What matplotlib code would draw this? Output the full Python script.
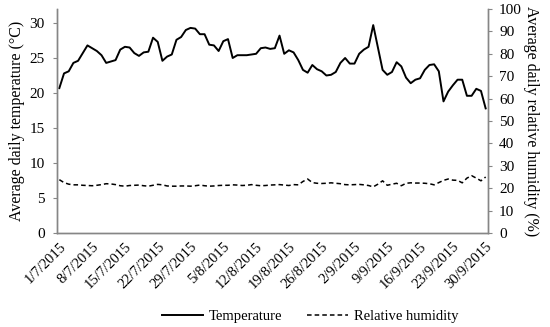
import matplotlib
matplotlib.use("Agg")
import matplotlib.pyplot as plt
import numpy as np
import datetime as dt

plt.rcParams['font.family'] = ['Liberation Serif', 'DejaVu Serif']

temperature = [20.7, 22.8, 23.1, 24.3, 24.6, 25.7, 26.8, 26.4, 26.0, 25.4,
               24.3, 24.5, 24.7, 26.2, 26.6, 26.5, 25.7, 25.3, 25.8, 25.9,
               27.9, 27.3, 24.6, 25.2, 25.5, 27.6, 28.0, 29.0, 29.3, 29.2,
               28.4, 28.4, 26.9, 26.8, 26.0, 27.4, 27.7, 25.0, 25.4, 25.4,
               25.4, 25.5, 25.6, 26.4, 26.5, 26.3, 26.4, 28.2, 25.6, 26.1,
               25.8, 24.7, 23.3, 22.9, 24.0, 23.4, 23.1, 22.5, 22.6, 23.0,
               24.3, 25.0, 24.2, 24.2, 25.6, 26.2, 26.6, 29.7, 26.5, 23.3,
               22.6, 23.0, 24.4, 23.8, 22.2, 21.4, 21.9, 22.1, 23.3, 24.0,
               24.1, 23.1, 18.8, 20.2, 21.1, 21.9, 21.9, 19.6, 19.6, 20.6,
               20.3, 17.8]

humidity = [23.8, 22.5, 21.8, 21.5, 21.5, 21.3, 21.2, 21.1, 21.3, 21.6,
            22.0, 21.9, 21.6, 21.1, 20.9, 21.2, 21.3, 21.4, 21.1, 20.9,
            21.3, 21.7, 21.5, 21.0, 20.9, 20.9, 21.0, 21.0, 20.9, 21.1,
            21.4, 21.1, 20.9, 21.0, 21.2, 21.3, 21.3, 21.5, 21.4, 21.2,
            21.3, 21.6, 21.3, 21.1, 21.2, 21.4, 21.5, 21.6, 21.4, 21.2,
            21.6, 21.5, 23.0, 24.1, 22.5, 22.2, 22.1, 22.2, 22.4, 22.2,
            22.0, 21.6, 21.5, 21.6, 21.7, 21.5, 21.2, 20.6, 21.8, 23.3,
            21.3, 21.8, 22.2, 21.1, 22.2, 22.4, 22.3, 22.3, 22.2, 22.0,
            21.5, 22.5, 23.5, 24.1, 23.6, 23.5, 22.4, 24.5, 25.6, 24.5,
            23.3, 25.0]

start = dt.date(2015, 7, 1)
dates = [start + dt.timedelta(days=i) for i in range(len(temperature))]
date_labels = [f"{d.day}/{d.month}/{d.year}" for d in dates]
label_step = 7

fig = plt.figure(figsize=(5.5, 3.27), dpi=100)
ax = fig.add_axes([57/550, 1-233/327, (488-57)/550, (233-9)/327])
ax2 = ax.twinx()

x = np.arange(len(temperature))
l1, = ax.plot(x, temperature, color='black', lw=1.4, label='Temperature')
l2, = ax2.plot(x, humidity, color='black', lw=1.1, ls=(0, (3, 2)), label='Relative humidity')

ax.set_xlim(-0.5, len(temperature) - 0.5)
ax.set_ylim(0, 32)
ax.set_yticks(np.arange(0, 31, 5))
ax2.set_ylim(0, 100)
ax2.set_yticks(np.arange(0, 101, 10))

ticks = x[::label_step]
ax.set_xticks(ticks)
ax.set_xticklabels([date_labels[i] for i in ticks], rotation=45, ha='right',
                   rotation_mode='anchor', fontsize=10.5)
ax.tick_params(axis='x', length=0, pad=5)
ax.tick_params(axis='y', labelsize=11, length=3, color='#868686', pad=6)
ax2.tick_params(axis='y', labelsize=11, length=3, color='#868686', pad=5)

for a in (ax, ax2):
    a.spines['top'].set_visible(False)
    for s in ('left', 'right', 'bottom'):
        a.spines[s].set_color('#868686')
        a.spines[s].set_linewidth(1.0)

ax.set_ylabel('Average daily temperature (°C)', fontsize=11.5, labelpad=3)
ax2.set_ylabel('Average daily relative humidity (%)', fontsize=11.5, rotation=270,
               labelpad=12)

fig.legend(handles=[l1, l2], loc='center', bbox_to_anchor=(310/550, 1 - 316/327),
           ncol=2, frameon=False, fontsize=10.5, handlelength=2.8,
           handletextpad=0.4, columnspacing=1.7)

fig.savefig('out.png', dpi=100)
